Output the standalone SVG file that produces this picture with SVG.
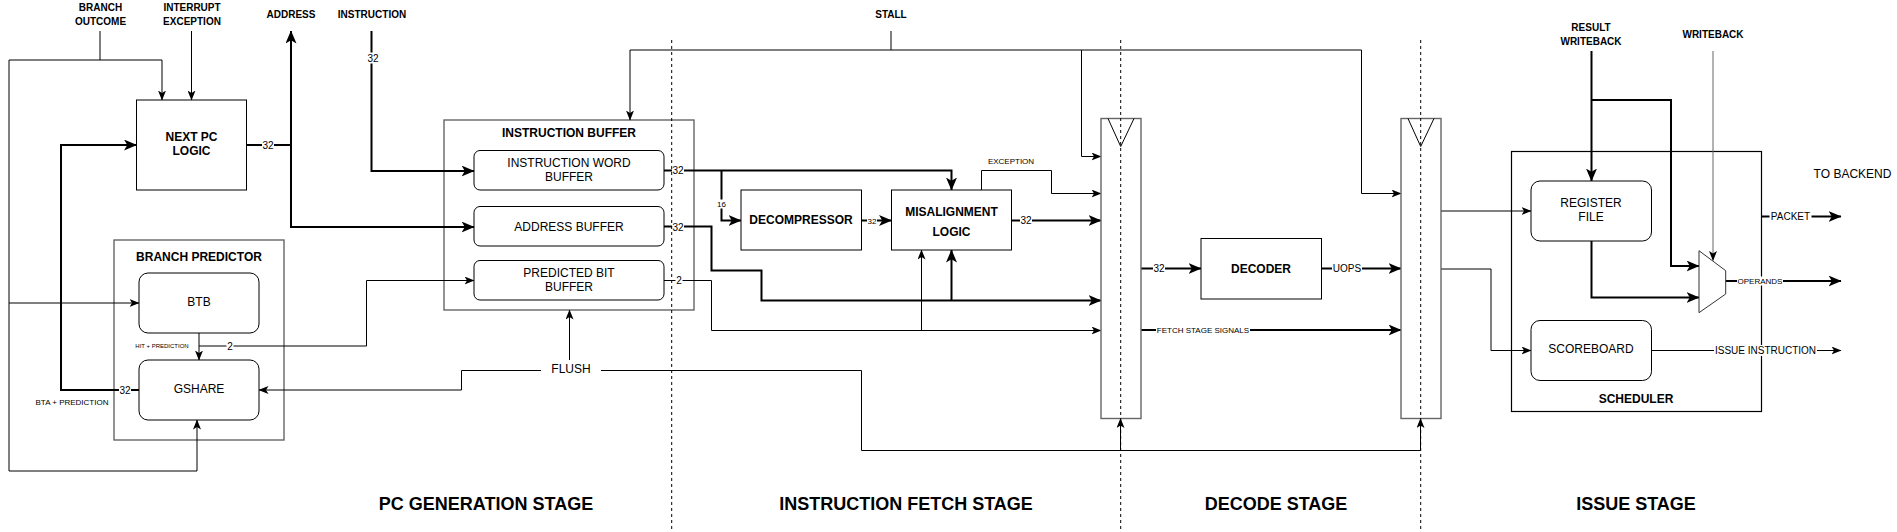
<svg xmlns="http://www.w3.org/2000/svg" width="1897" height="532" viewBox="0 0 1897 532">
<style>
text{font-family:"Liberation Sans",Arial,Helvetica,sans-serif;fill:#000;text-anchor:middle}
.b10{font-size:10px;font-weight:bold}
.b12{font-size:12px;font-weight:bold}
.n12{font-size:12px}
.n10{font-size:10px}
.n8{font-size:8px}
.n6{font-size:6px}
.stage{font-size:18px;font-weight:bold}
.box{fill:#fff;stroke:#000;stroke-width:1}
.cont{fill:#fff;stroke:#666;stroke-width:1.4}
.reg{fill:#fff;stroke:#666;stroke-width:1.4}
.thin{fill:none;stroke:#000;stroke-width:1}
.thick{fill:none;stroke:#000;stroke-width:2}
.a1{marker-end:url(#arrThin)}
.a2{marker-end:url(#arrThick)}
.dash{fill:none;stroke:#000;stroke-width:1;stroke-dasharray:3 3}
.lbg{fill:#fff;stroke:none}
</style>
<defs>
<marker id="arrThin" markerUnits="userSpaceOnUse" viewBox="0 0 10 8" refX="9.5" refY="4" markerWidth="10" markerHeight="8" orient="auto">
<path d="M0,0 L10,4 L0,8 L2.5,4 Z" fill="#000"/>
</marker>
<marker id="arrThick" markerUnits="userSpaceOnUse" viewBox="0 0 13 11" refX="12.5" refY="5.5" markerWidth="13" markerHeight="11" orient="auto">
<path d="M0,0 L13,5.5 L0,11 L3.3,5.5 Z" fill="#000"/>
</marker>
</defs>
<rect x="0" y="0" width="1897" height="532" fill="#fff"/>

<!-- containers -->
<g id="branch-predictor">
<rect class="cont" x="114" y="240" width="170" height="200"/>
<text class="b12" x="199" y="261.3">BRANCH PREDICTOR</text>
</g>
<g id="instruction-buffer">
<rect class="cont" x="444" y="120" width="250" height="190"/>
<text class="b12" x="569" y="137.3">INSTRUCTION BUFFER</text>
</g>
<g id="scheduler">
<rect x="1511.5" y="151.5" width="250" height="260" fill="#fff" stroke="#000" stroke-width="1.2"/>
<text class="b12" x="1636" y="403">SCHEDULER</text>
</g>

<!-- connectors -->
<g id="connectors">
<!-- branch outcome -->
<path class="thin" d="M100,31 V60"/>
<path class="thin a1" d="M9,60 H162 V100"/>
<path class="thin a1" d="M9,60 V471 H197 V420"/>
<path class="thin a1" d="M9,303 H139"/>
<!-- interrupt -->
<path class="thin a1" d="M191.5,31 V100"/>
<!-- next pc to address -->
<path class="thick" d="M246.5,145 H291"/>
<path class="thick a2" d="M291,145 V31"/>
<path class="thick a2" d="M291,145 V227 H474"/>
<!-- instruction -->
<path class="thick a2" d="M371.5,31 V171 H474"/>
<!-- gshare to next pc -->
<path class="thick a2" d="M139,390 H61 V145 H136.5"/>
<!-- btb to gshare -->
<path class="thin a1" d="M199,333 V360"/>
<path class="thin a1" d="M199,346 H366.5 V280.5 H474"/>
<!-- flush -->
<path class="thin a1" d="M541,370.5 H461.5 V390 H259"/>
<path class="thin a1" d="M569.5,360 V310"/>
<path class="thin a1" d="M601,370.5 H861.5 V450.5 H1420.5 V418.5"/>
<path class="thin a1" d="M1120.5,450.5 V418.5"/>
<!-- stall -->
<path class="thin" d="M891,31 V50"/>
<path class="thin a1" d="M630,50 H1361.5 V193.5 H1401"/>
<path class="thin a1" d="M630,50 V120"/>
<path class="thin a1" d="M1081.5,50 V156.5 H1101"/>
<!-- instruction word buffer out -->
<path class="thick a2" d="M664,170.5 H951.5 V190"/>
<path class="thick a2" d="M721.5,170.5 V220.5 H741"/>
<path class="thick a2" d="M861.5,220.5 H891.5"/>
<!-- address buffer out -->
<path class="thick a2" d="M664,226.5 H711.5 V270.5 H761.5 V300.5 H1101"/>
<path class="thick a2" d="M951.5,300.5 V250"/>
<!-- predicted bit out -->
<path class="thin a1" d="M664,280.5 H711.5 V330.5 H1101"/>
<path class="thin a1" d="M921.5,330.5 V250"/>
<!-- exception -->
<path class="thin a1" d="M981.5,190 V170.5 H1051.5 V193.5 H1101"/>
<!-- misalignment out -->
<path class="thick a2" d="M1011.5,220.5 H1101"/>
<!-- reg1 to decoder -->
<path class="thick a2" d="M1141,268.5 H1201"/>
<path class="thick a2" d="M1321.5,268.5 H1401"/>
<path class="thick a2" d="M1141,330 H1401"/>
<!-- reg2 to scheduler -->
<path class="thin a1" d="M1441,211 H1531"/>
<path class="thin a1" d="M1441,269 H1491 V350.5 H1531"/>
<!-- result writeback -->
<path class="thick a2" d="M1591.5,51 V181"/>
<path class="thick a2" d="M1591.5,100 H1671 V266 H1699"/>
<path class="thick a2" d="M1591.5,241 V297.5 H1699"/>
<!-- writeback -->
<path class="a1" d="M1713,51 V260.5" fill="none" stroke="#666" stroke-width="1"/>
<!-- outputs -->
<path class="thick a2" d="M1725.5,281 H1841"/>
<path class="thick a2" d="M1761.5,216.5 H1841"/>
<path class="thin a1" d="M1651,350.5 H1841"/>

<!-- edge labels -->
<rect class="lbg" x="262" y="139.5" width="12" height="11"/>
<text class="n10" x="268" y="148.6">32</text>
<rect class="lbg" x="367" y="52.5" width="12" height="11"/>
<text class="n10" x="373" y="61.6">32</text>
<rect class="lbg" x="119" y="384.5" width="12" height="11"/>
<text class="n10" x="125" y="393.6">32</text>
<rect class="lbg" x="226.5" y="340.5" width="7" height="11"/>
<text class="n10" x="230" y="349.6">2</text>
<text class="n6" x="162" y="348.2">HIT + PREDICTION</text>
<text class="n8" x="72" y="404.9">BTA + PREDICTION</text>
<rect class="lbg" x="672" y="165" width="12" height="11"/>
<text class="n10" x="678" y="174.1">32</text>
<rect class="lbg" x="672" y="221" width="12" height="11"/>
<text class="n10" x="678" y="230.6">32</text>
<rect class="lbg" x="675.5" y="275" width="7" height="11"/>
<text class="n10" x="679" y="284.1">2</text>
<rect class="lbg" x="716.5" y="199.5" width="10" height="9"/>
<text class="n8" x="721.5" y="207.2">16</text>
<rect class="lbg" x="867" y="216" width="10" height="9"/>
<text class="n8" x="872" y="223.9">32</text>
<text class="n8" x="1011" y="164.2">EXCEPTION</text>
<rect class="lbg" x="1020" y="215" width="12" height="11"/>
<text class="n10" x="1026" y="224.3">32</text>
<rect class="lbg" x="1153" y="263" width="12" height="11"/>
<text class="n10" x="1159" y="272.3">32</text>
<rect class="lbg" x="1332" y="263" width="30" height="11"/>
<text class="n10" x="1347" y="272.3">UOPS</text>
<rect class="lbg" x="1156" y="325.5" width="94" height="9"/>
<text class="n8" x="1203" y="332.9">FETCH STAGE SIGNALS</text>
<rect class="lbg" x="1737" y="276.5" width="46" height="9"/>
<text class="n8" x="1760" y="283.9">OPERANDS</text>
<rect class="lbg" x="1769.5" y="211" width="42" height="11"/>
<text class="n10" x="1790.5" y="220.3">PACKET</text>
<rect class="lbg" x="1714" y="345" width="103" height="11"/>
<text class="n10" x="1765.5" y="354.3">ISSUE INSTRUCTION</text>
</g>

<!-- nodes -->
<g id="next-pc-logic">
<rect class="box" x="136.5" y="100" width="110" height="90"/>
<text class="b12" x="191.5" y="141">NEXT PC</text>
<text class="b12" x="191.5" y="155">LOGIC</text>
</g>
<g id="btb">
<rect class="box" x="139" y="273" width="120" height="60" rx="9"/>
<text class="n12" x="199" y="306.3">BTB</text>
</g>
<g id="gshare">
<rect class="box" x="139" y="360" width="120" height="60" rx="9"/>
<text class="n12" x="199" y="392.5">GSHARE</text>
</g>
<g id="instruction-word-buffer">
<rect class="box" x="474" y="150.5" width="190" height="39.5" rx="6"/>
<text class="n12" x="569" y="167.3">INSTRUCTION WORD</text>
<text class="n12" x="569" y="181.3">BUFFER</text>
</g>
<g id="address-buffer">
<rect class="box" x="474" y="206.5" width="190" height="39.5" rx="6"/>
<text class="n12" x="569" y="231.3">ADDRESS BUFFER</text>
</g>
<g id="predicted-bit-buffer">
<rect class="box" x="474" y="260.5" width="190" height="39.5" rx="6"/>
<text class="n12" x="569" y="277.3">PREDICTED BIT</text>
<text class="n12" x="569" y="291.3">BUFFER</text>
</g>
<g id="decompressor">
<rect class="box" x="741" y="190" width="120.5" height="60"/>
<text class="b12" x="801" y="224.3">DECOMPRESSOR</text>
</g>
<g id="misalignment-logic">
<rect class="box" x="891.5" y="190" width="120" height="60"/>
<text class="b12" x="951.5" y="216">MISALIGNMENT</text>
<text class="b12" x="951.5" y="236">LOGIC</text>
</g>
<g id="pipeline-register-1">
<rect class="reg" x="1101" y="118.5" width="40" height="300"/>
<path class="thin" d="M1108,118.5 L1120.7,146.5 L1134,118.5"/>
</g>
<g id="decoder">
<rect class="box" x="1201" y="238.5" width="120.5" height="60.5"/>
<text class="b12" x="1261" y="273">DECODER</text>
</g>
<g id="pipeline-register-2">
<rect class="reg" x="1401" y="118.5" width="40" height="300"/>
<path class="thin" d="M1408,118.5 L1420.7,146.5 L1434,118.5"/>
</g>
<g id="register-file">
<rect class="box" x="1531" y="181" width="120.5" height="60" rx="9"/>
<text class="n12" x="1591" y="207.3">REGISTER</text>
<text class="n12" x="1591" y="221">FILE</text>
</g>
<g id="scoreboard">
<rect class="box" x="1531" y="320.5" width="120.5" height="60" rx="9"/>
<text class="n12" x="1591" y="353.3">SCOREBOARD</text>
</g>
<g id="mux">
<polygon points="1699,250.7 1725.7,270.7 1725.7,294 1699,312.7" fill="#fff" stroke="#333" stroke-width="1"/>
</g>

<!-- stage separators -->
<g id="stage-separators">
<path class="dash" d="M671.7,40 V532"/>
<path class="dash" d="M1120.7,40 V532"/>
<path class="dash" d="M1420.7,40 V532"/>
</g>

<!-- free texts -->
<g id="signal-labels">
<text class="b10" x="100.5" y="10.5">BRANCH</text>
<text class="b10" x="100.5" y="24.5">OUTCOME</text>
<text class="b10" x="192" y="10.5">INTERRUPT</text>
<text class="b10" x="192" y="24.5">EXCEPTION</text>
<text class="b10" x="291" y="17.6">ADDRESS</text>
<text class="b10" x="372" y="17.6">INSTRUCTION</text>
<text class="b10" x="891" y="17.9">STALL</text>
<text class="b10" x="1591" y="30.6">RESULT</text>
<text class="b10" x="1591" y="44.6">WRITEBACK</text>
<text class="b10" x="1713" y="37.6">WRITEBACK</text>
<text class="n12" x="571" y="373.3">FLUSH</text>
<text class="n12" x="1852.5" y="178.3">TO BACKEND</text>
</g>
<g id="stage-labels">
<text class="stage" x="486" y="509.7">PC GENERATION STAGE</text>
<text class="stage" x="906" y="509.7">INSTRUCTION FETCH STAGE</text>
<text class="stage" x="1276" y="509.7">DECODE STAGE</text>
<text class="stage" x="1636" y="509.7">ISSUE STAGE</text>
</g>
</svg>
